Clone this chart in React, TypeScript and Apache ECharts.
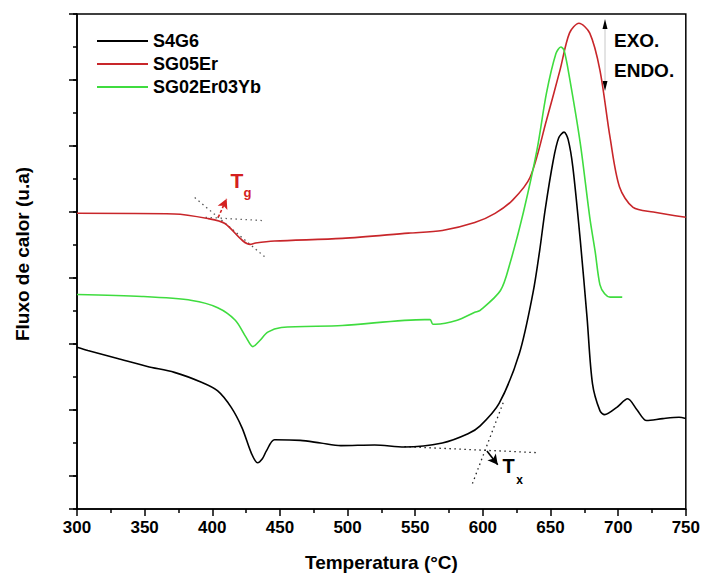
import React, { useEffect, useRef } from "react";
import * as echarts from "echarts";

// ---- data (temperature °C, heat flux in arbitrary units) ----
const s4g6Temp = [300, 308, 330, 352, 372, 392, 404, 414, 422, 429, 433.5, 437, 440, 446, 465, 480, 495, 520, 542, 570, 589, 598, 612, 627, 637, 642, 646, 652, 656, 660, 663, 666.5, 672, 677, 681, 686.5, 690, 699, 707, 714, 721, 733, 745, 750];
const s4g6Flux = [2.45, 2.4, 2.28, 2.16, 2.07, 1.92, 1.79, 1.54, 1.23, 0.84, 0.7, 0.76, 0.88, 1.05, 1.04, 1.0, 0.96, 0.97, 0.94, 1.0, 1.14, 1.26, 1.6, 2.36, 3.27, 3.92, 4.53, 5.28, 5.62, 5.71, 5.6, 5.18, 4.07, 2.9, 1.9, 1.49, 1.43, 1.54, 1.67, 1.5, 1.34, 1.37, 1.39, 1.37];

const sg05ErTemp = [300, 372, 397, 409, 428, 432, 446, 496, 545, 570, 594, 609, 622, 635, 647, 657, 664, 671, 679, 686.5, 694, 701, 711, 726, 750];
const sg05ErFlux = [4.48, 4.47, 4.4, 4.33, 4.01, 4.03, 4.06, 4.1, 4.18, 4.22, 4.34, 4.48, 4.68, 5.03, 5.89, 6.65, 7.21, 7.36, 7.21, 6.65, 5.63, 4.88, 4.57, 4.5, 4.42];

const sg02Temp = [300, 348, 385, 404, 417, 425, 430, 435, 441, 451, 496, 557, 561, 563, 565, 581, 594, 598, 613, 620, 630, 640, 647, 654, 657.6, 660, 664, 672, 679, 683, 686.5, 690, 694, 703];
const sg02Flux = [3.25, 3.22, 3.16, 3.05, 2.86, 2.6, 2.46, 2.55, 2.68, 2.75, 2.78, 2.87, 2.87, 2.8, 2.8, 2.86, 2.98, 3.01, 3.31, 3.72, 4.5, 5.44, 6.3, 6.9, 7.0, 6.95, 6.54, 5.54, 4.42, 3.9, 3.4, 3.26, 3.21, 3.21];

// annotation construction lines (data coordinates)
const tgDiagonal = [[387, 4.72], [440, 3.8]];
const tgBaseline = [[395, 4.42], [437, 4.37]];
const tgArrow = [[404.4, 4.42], [410.6, 4.7]];
const txBaseline = [[542, 0.945], [640, 0.854]];
const txDiagonal = [[615, 1.61], [592, 0.37]];
const txArrow = [[603, 0.88], [611, 0.67]];

const xTicks = { min: 300, max: 750, interval: 50 };
const yRange = { min: 0, max: 7.5 };

const seriesNames = ["S4G6", "SG05Er", "SG02Er03Yb"];
const seriesColors = ["#000000", "#c8262a", "#3fdc3f"];

const FONT = "Arial, 'Liberation Sans', sans-serif";

const zip = (a: number[], b: number[]) => a.map((v, i) => [v, b[i]]);

export default function App() {
  const ref = useRef<HTMLDivElement>(null);

  useEffect(() => {
    document.body.style.margin = "0";
    if (!ref.current) return;
    const chart = echarts.init(ref.current, undefined, { renderer: "svg" });

    const curve = (name: string, data: number[][], color: string) => ({
      name,
      type: "line",
      data,
      symbol: "none",
      smooth: 0.3,
      lineStyle: { color, width: 1.6 },
      itemStyle: { color },
      z: 3,
    });

    const guide = (data: number[][], color: string, arrow?: number[][], arrowColor?: string, arrowType?: any) => ({
      type: "line",
      data,
      symbol: "none",
      silent: true,
      lineStyle: { color, width: 1.3, type: [1.5, 3.5] },
      z: 2,
      markLine: arrow
        ? {
            silent: true,
            symbol: ["none", "arrow"],
            symbolSize: [8, 10],
            label: { show: false },
            lineStyle: { color: arrowColor, width: 1.6, type: arrowType || "solid" },
            data: [[{ coord: arrow[0] }, { coord: arrow[1] }]],
          }
        : undefined,
    });

    chart.setOption({
      animation: false,
      grid: {
        left: 77,
        right: 17,
        top: 14,
        bottom: 72,
        show: true,
        borderColor: "#000",
        borderWidth: 1.5,
      },
      legend: {
        data: seriesNames,
        orient: "vertical",
        left: 92,
        top: 27,
        icon: "rect",
        itemWidth: 51,
        itemHeight: 2,
        itemGap: 5,
        textStyle: { fontFamily: FONT, fontSize: 18, fontWeight: "bold", color: "#000" },
      },
      xAxis: {
        type: "value",
        min: xTicks.min,
        max: xTicks.max,
        interval: xTicks.interval,
        name: "Temperatura (°C)",
        nameLocation: "middle",
        nameGap: 44,
        nameTextStyle: { fontFamily: FONT, fontSize: 19, fontWeight: "bold", color: "#000" },
        axisLine: { show: true, lineStyle: { color: "#000", width: 1.5 } },
        axisTick: { show: true, length: 7, lineStyle: { color: "#000", width: 1.5 } },
        minorTick: { show: true, splitNumber: 2, length: 4, lineStyle: { color: "#000", width: 1.5 } },
        axisLabel: { fontFamily: FONT, fontSize: 17, fontWeight: "bold", color: "#000", margin: 10 },
        splitLine: { show: false },
      },
      yAxis: [
        { type: "value", min: yRange.min, max: yRange.max, show: false },
        {
          type: "value",
          inverse: true,
          min: yRange.min,
          max: yRange.max,
          interval: 1,
          position: "left",
          axisLine: { show: true, lineStyle: { color: "#000", width: 1.5 } },
          axisTick: { show: true, length: 8, lineStyle: { color: "#000", width: 1.5 } },
          axisLabel: { show: false },
          splitLine: { show: false },
        },
        {
          type: "value",
          inverse: true,
          min: yRange.min,
          max: yRange.max,
          interval: 0.5,
          position: "left",
          axisLine: { show: false },
          axisTick: { show: true, length: 4, lineStyle: { color: "#000", width: 1.5 } },
          axisLabel: { show: false },
          splitLine: { show: false },
        },
      ],
      series: [
        curve(seriesNames[0], zip(s4g6Temp, s4g6Flux), seriesColors[0]),
        curve(seriesNames[1], zip(sg05ErTemp, sg05ErFlux), seriesColors[1]),
        curve(seriesNames[2], zip(sg02Temp, sg02Flux), seriesColors[2]),
        guide(tgDiagonal, "#555", tgArrow, "#d42020", [3, 2]),
        guide(tgBaseline, "#666"),
        guide(txBaseline, "#222", txArrow, "#000"),
        guide(txDiagonal, "#222"),
      ],
      graphic: [
        {
          type: "text",
          x: 22,
          y: 254,
          rotation: Math.PI / 2,
          style: { text: "Fluxo de calor (u.a)", fontFamily: FONT, fontSize: 19, fontWeight: "bold", fill: "#000", align: "center", verticalAlign: "middle" },
        },
        { type: "text", x: 237, y: 180, style: { text: "T", fontFamily: FONT, fontSize: 21, fontWeight: "bold", fill: "#d42020", align: "center", verticalAlign: "middle" } },
        { type: "text", x: 247.5, y: 192, style: { text: "g", fontFamily: FONT, fontSize: 13, fontWeight: "bold", fill: "#d42020", align: "center", verticalAlign: "middle" } },
        { type: "text", x: 508.5, y: 466, style: { text: "T", fontFamily: FONT, fontSize: 20, fontWeight: "bold", fill: "#000", align: "center", verticalAlign: "middle" } },
        { type: "text", x: 519.5, y: 480, style: { text: "x", fontFamily: FONT, fontSize: 12, fontWeight: "bold", fill: "#000", align: "center", verticalAlign: "middle" } },
        { type: "line", shape: { x1: 605, y1: 26, x2: 605, y2: 84 }, style: { stroke: "#c8c8c8", lineWidth: 1 } },
        { type: "polygon", shape: { points: [[605, 19], [602.5, 29], [607.5, 29]] }, style: { fill: "#000" } },
        { type: "polygon", shape: { points: [[605, 91], [602.5, 81], [607.5, 81]] }, style: { fill: "#000" } },
        { type: "text", x: 614, y: 40, style: { text: "EXO.", fontFamily: FONT, fontSize: 19, fontWeight: "bold", fill: "#000", align: "left", verticalAlign: "middle" } },
        { type: "text", x: 614, y: 70, style: { text: "ENDO.", fontFamily: FONT, fontSize: 19, fontWeight: "bold", fill: "#000", align: "left", verticalAlign: "middle" } },
      ],
    });

    return () => chart.dispose();
  }, []);

  return <div ref={ref} style={{ width: 703, height: 581 }} />;
}
